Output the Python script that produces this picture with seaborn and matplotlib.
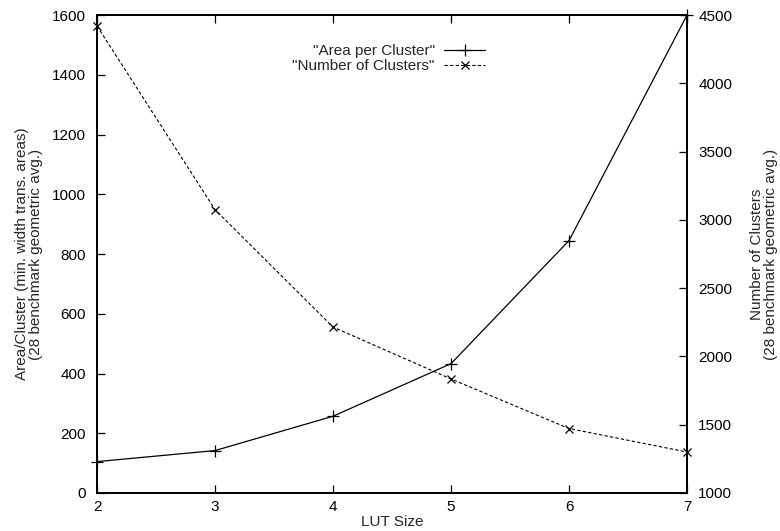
import numpy as np
import pandas as pd
import matplotlib as mpl
mpl.use("Agg")
import matplotlib.pyplot as plt
import seaborn as sns
from matplotlib.lines import Line2D

sns.set_style("ticks")
plt.rcParams['font.family'] = ['Liberation Sans', 'DejaVu Sans']

lut_size = [2, 3, 4, 5, 6, 7]
area_per_cluster = [105, 142, 257, 433, 845, 1600]
num_clusters = [4420, 3075, 2215, 1835, 1472, 1300]

df = pd.DataFrame({"lut": lut_size, "area": area_per_cluster, "clusters": num_clusters})

fs = 11

fig = plt.figure(figsize=(7.8, 5.31), dpi=100)
ax = fig.add_axes([0.1244, 0.0716, 0.7564, 0.900])
ax2 = ax.twinx()

sns.lineplot(data=df, x="lut", y="area", ax=ax, color="black", lw=0.9,
             marker="+", markersize=8, markeredgewidth=0.9,
             markeredgecolor="black", clip_on=False)
sns.lineplot(data=df, x="lut", y="clusters", ax=ax2, color="black", lw=0.8,
             linestyle=(0, (3, 2)), marker="x", markersize=6, markeredgewidth=0.9,
             markeredgecolor="black", clip_on=False)

ax.set_xlim(2, 7)
ax.set_ylim(0, 1600)
ax2.set_ylim(1000, 4500)
ax.set_xticks(lut_size)
ax.set_yticks(range(0, 1601, 200))
ax2.set_yticks(range(1000, 4501, 500))

for a in (ax, ax2):
    for s in a.spines.values():
        s.set_linewidth(1.3)
        s.set_color("black")
ax.tick_params(axis="both", direction="in", length=6, width=0.9, labelsize=fs,
               top=True, colors="black")
ax2.tick_params(axis="y", direction="in", length=6, width=0.9, labelsize=fs,
                colors="black", pad=8)
ax.tick_params(axis="y", pad=8)
ax.tick_params(axis="x", pad=5)

ax.set_xlabel("LUT Size", fontsize=fs, labelpad=1)
ax.set_ylabel("Area/Cluster (min. width trans. areas)\n(28 benchmark geometric avg.)",
              fontsize=fs, linespacing=1.0)
ax2.set_ylabel("Number of Clusters\n(28 benchmark geometric avg.)",
               fontsize=fs, linespacing=1.0)
ax.yaxis.set_label_coords(-0.092, 0.5)
ax2.yaxis.set_label_coords(1.107, 0.5)

handles = [
    Line2D([], [], color="black", lw=0.9, marker="+", markersize=8, markeredgewidth=0.9),
    Line2D([], [], color="black", lw=0.8, linestyle=(0, (3, 2)), marker="x",
           markersize=6, markeredgewidth=0.9),
]
leg = ax.legend(handles, ['"Area per Cluster"', '"Number of Clusters"'],
                loc="upper right", bbox_to_anchor=(0.671, 0.955), frameon=False,
                markerfirst=False, fontsize=fs, handlelength=2.7,
                handletextpad=0.6, labelspacing=0.05, borderpad=0)
for t in leg.get_texts():
    t.set_ha("right")
leg._legend_box.align = "right"

fig.savefig("out.png", dpi=100)
